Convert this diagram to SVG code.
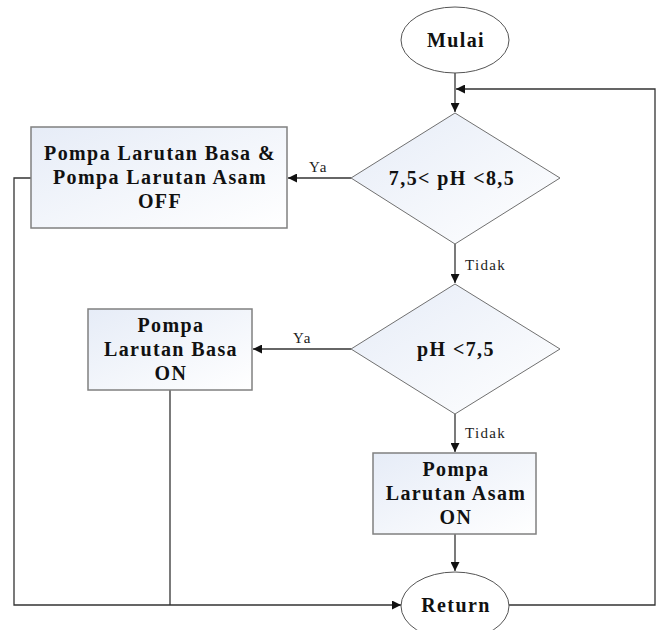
<svg xmlns="http://www.w3.org/2000/svg" width="661" height="630" viewBox="0 0 661 630">
<defs>
<linearGradient id="g" x1="0" y1="0" x2="1" y2="1">
<stop offset="0" stop-color="#e6ecf7"/>
<stop offset="1" stop-color="#ffffff"/>
</linearGradient>
<marker id="a" viewBox="0 0 10 10" refX="10" refY="5" markerWidth="9" markerHeight="9" markerUnits="userSpaceOnUse" orient="auto">
<path d="M0,0 L10,5 L0,10 z" fill="#111"/>
</marker>
<style>
.box{fill:url(#g);stroke:#808080;stroke-width:1.5}
.dia{fill:url(#g);stroke:#707070;stroke-width:1}
.ell{fill:#fff;stroke:#555;stroke-width:1}
.t{font-family:"Liberation Serif","Times New Roman",serif;font-weight:bold;font-size:20px;letter-spacing:1.4px;fill:#111;text-anchor:middle}
.l{font-family:"Liberation Serif","Times New Roman",serif;font-size:15px;letter-spacing:1.3px;fill:#222}
.c{fill:none;stroke:#333;stroke-width:1.3}
</style>
</defs>
<rect width="661" height="630" fill="#fff"/>
<g id="connectors">
<path class="c" d="M455,73 V112" marker-end="url(#a)"/>
<path class="c" d="M509,605 H655 V89 H456" marker-end="url(#a)"/>
<path class="c" d="M351,178 H288" marker-end="url(#a)"/>
<path class="c" d="M455,244 V283" marker-end="url(#a)"/>
<path class="c" d="M351,349 H253" marker-end="url(#a)"/>
<path class="c" d="M455,414 V452" marker-end="url(#a)"/>
<path class="c" d="M455,534 V571" marker-end="url(#a)"/>
<path class="c" d="M31,178 H14 V605 H401" marker-end="url(#a)"/>
<path class="c" d="M170,390 V605"/>
<text class="l" x="309" y="172">Ya</text>
<text class="l" x="293" y="343">Ya</text>
<text class="l" x="465" y="270">Tidak</text>
<text class="l" x="465" y="438">Tidak</text>
</g>
<g id="mulai">
<ellipse class="ell" cx="455" cy="40" rx="54" ry="33"/>
<text class="t" x="456" y="47">Mulai</text>
</g>
<g id="cond1">
<polygon class="dia" points="455,113 560,178 455,244 351,178"/>
<text class="t" x="452" y="185">7,5&lt; pH &lt;8,5</text>
</g>
<g id="box1">
<rect class="box" x="31" y="127" width="256" height="101"/>
<text class="t" x="160" y="160">Pompa Larutan Basa &amp;</text>
<text class="t" x="160" y="184">Pompa Larutan Asam</text>
<text class="t" x="160" y="208">OFF</text>
</g>
<g id="cond2">
<polygon class="dia" points="455,284 560,349 455,414 351,349"/>
<text class="t" x="456" y="356">pH &lt;7,5</text>
</g>
<g id="box2">
<rect class="box" x="88" y="309" width="164" height="81"/>
<text class="t" x="171" y="332">Pompa</text>
<text class="t" x="171" y="356">Larutan Basa</text>
<text class="t" x="171" y="380">ON</text>
</g>
<g id="box3">
<rect class="box" x="373" y="453" width="163" height="81"/>
<text class="t" x="456" y="476">Pompa</text>
<text class="t" x="456" y="500">Larutan Asam</text>
<text class="t" x="456" y="524">ON</text>
</g>
<g id="return">
<ellipse class="ell" cx="455" cy="606" rx="54" ry="34"/>
<text class="t" x="456" y="612">Return</text>
</g>
</svg>
